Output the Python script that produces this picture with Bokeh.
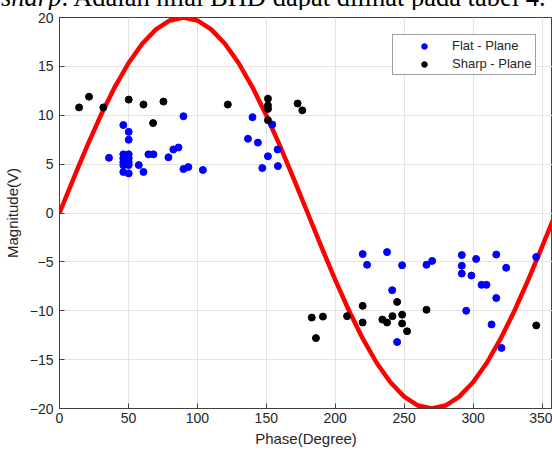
from bokeh.plotting import figure
from bokeh.models import FixedTicker, Legend, LegendItem, Div
from bokeh.layouts import column
from bokeh.embed import file_html
from bokeh.resources import INLINE

# red reference curve (at every 10 degrees)
curve_phase = [0, 10, 20, 30, 40, 50, 60, 70, 80, 90, 100, 110, 120, 130, 140, 150, 160, 170, 180,
               190, 200, 210, 220, 230, 240, 250, 260, 270, 280, 290, 300, 310, 320, 330, 340, 350, 360]
curve_mag = [0, 3.47, 6.84, 10.0, 12.86, 15.32, 17.32, 18.79, 19.70, 20.0, 19.70, 18.79, 17.32, 15.32,
             12.86, 10.0, 6.84, 3.47, 0, -3.47, -6.84, -10.0, -12.86, -15.32, -17.32, -18.79, -19.70,
             -20.0, -19.70, -18.79, -17.32, -15.32, -12.86, -10.0, -6.84, -3.47, 0]

flat_phase = [35.9, 46.3, 46.3, 46.3, 46.3, 46.3, 46.3, 50.2, 50.2, 50.2, 50.2, 50.2, 50.2, 50.2,
              57.5, 60.9, 64.5, 68.1, 79.0, 82.6, 86.3, 89.9, 89.9, 93.5, 104.0,
              140.0, 154.3, 136.7, 143.9, 158.2, 151.2, 147.1, 158.4,
              219.9, 237.6, 223.1, 248.5, 266.2, 270.3, 241.3, 244.9,
              291.8, 302.2, 316.8, 345.8, 291.8, 291.8, 298.8, 324.0, 306.1, 309.7, 316.8, 295.0, 313.4, 320.6]
flat_mag = [5.65, 9.0, 6.0, 5.6, 5.2, 4.9, 4.2, 8.3, 7.5, 6.0, 5.6, 5.2, 4.9, 4.05,
            4.9, 4.2, 6.0, 6.0, 5.7, 6.5, 6.7, 9.9, 4.5, 4.7, 4.4,
            9.8, 9.05, 7.6, 7.2, 6.5, 5.8, 4.6, 4.8,
            -4.2, -4.0, -5.3, -5.35, -5.3, -4.9, -7.9, -13.2,
            -4.3, -4.7, -4.25, -4.5, -5.4, -6.2, -6.4, -5.6, -7.35, -7.35, -8.7, -10.0, -11.4, -13.8]

sharp_phase = [14.2, 21.4, 31.8, 50.2, 60.9, 75.4, 67.9,
               122.1, 151.2, 151.2, 151.2, 151.2, 172.7, 176.1,
               183.0, 186.0, 191.1, 208.6, 219.9, 219.9, 234.2, 237.6, 241.5, 244.9, 248.5, 248.5,
               252.1, 266.2, 345.8]
sharp_mag = [10.8, 11.9, 10.8, 11.6, 11.1, 11.4, 9.2,
             11.1, 11.7, 11.0, 10.65, 9.5, 11.2, 10.5,
             -10.7, -12.8, -10.6, -10.55, -9.5, -11.2, -10.9, -11.2, -10.55, -9.1, -10.4, -11.3,
             -12.1, -9.9, -11.5]

x_ticks = [0, 50, 100, 150, 200, 250, 300, 350]
y_ticks = [-20, -15, -10, -5, 0, 5, 10, 15, 20]

header_italic = "sharp"
header_rest = ". Adalah nilai BHD dapat dilihat pada tabel 4."

AX = "#404040"
FONT = "Liberation Sans"

p = figure(width=552, height=445, output_backend="svg", toolbar_location=None,
           x_range=(0, 357.6), y_range=(-20, 20),
           min_border_left=59, min_border_right=0, min_border_top=7, min_border_bottom=47,
           x_axis_label="Phase(Degree)", y_axis_label="Magnitude(V)")
p.background_fill_color = "white"
p.border_fill_color = "white"
p.outline_line_color = AX
p.outline_line_width = 1

for ax in (p.xaxis[0], p.yaxis[0]):
    ax.axis_line_color = AX
    ax.major_tick_line_color = AX
    ax.major_tick_in = 5
    ax.major_tick_out = 0
    ax.minor_tick_line_color = None
    ax.major_label_text_font = FONT
    ax.major_label_text_font_size = "14px"
    ax.major_label_text_color = "#262626"
    ax.axis_label_text_font = FONT
    ax.axis_label_text_font_size = "15px"
    ax.axis_label_text_font_style = "normal"
    ax.axis_label_text_color = "#262626"
p.xaxis[0].ticker = FixedTicker(ticks=x_ticks)
p.yaxis[0].ticker = FixedTicker(ticks=y_ticks)
p.xaxis[0].major_label_standoff = 4
p.xaxis[0].axis_label_standoff = 4
p.yaxis[0].major_label_standoff = 6
p.yaxis[0].axis_label_standoff = 6

p.xgrid.ticker = FixedTicker(ticks=x_ticks)
p.ygrid.ticker = FixedTicker(ticks=y_ticks)
p.grid.grid_line_color = "#e3e3e3"
p.grid.grid_line_width = 1

p.line(curve_phase, curve_mag, line_color="#ff0000", line_width=4.5)
r_flat = p.scatter(flat_phase, flat_mag, size=7, marker="circle", fill_color="#0000ff", line_color="#0000ff")
r_sharp = p.scatter(sharp_phase, sharp_mag, size=7, marker="circle", fill_color="black", line_color="black")

legend = Legend(items=[LegendItem(label="Flat - Plane", renderers=[r_flat]),
                       LegendItem(label="Sharp - Plane", renderers=[r_sharp])],
                location=(333, 333))
legend.margin = 0
legend.padding = 3
legend.spacing = 3
legend.glyph_width = 56
legend.glyph_height = 14
legend.label_height = 14
legend.label_standoff = 0
legend.label_text_font = FONT
legend.label_text_font_size = "13px"
legend.label_text_color = "#262626"
legend.border_line_color = AX
legend.border_line_width = 1
legend.background_fill_color = "white"
legend.background_fill_alpha = 1
p.add_layout(legend, "center")

header = Div(
    text=('<span style="position: relative; top: -16px; left: 1px; display: inline-block; '
          'white-space: nowrap;"><i>' + header_italic + '</i>' + header_rest + '</span>'),
    width=552, height=10,
    styles={"overflow": "hidden", "margin": "0", "padding": "0",
            "font-family": "'Liberation Serif', 'Times New Roman', serif",
            "font-size": "26.5px", "line-height": "26px", "color": "black"})

layout = column(header, p, spacing=0)
open("out.html", "w").write(file_html(layout, INLINE))
